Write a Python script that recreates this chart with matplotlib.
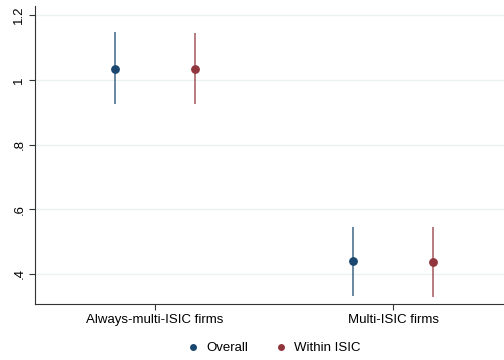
import numpy as np
import matplotlib.pyplot as plt

plt.rcParams['font.family'] = ['Liberation Sans', 'DejaVu Sans']

# data
groups = ["Always-multi-ISIC firms", "Multi-ISIC firms"]
overall_est = [1.035, 0.439]
overall_lo = [0.926, 0.332]
overall_hi = [1.147, 0.546]
within_est = [1.035, 0.437]
within_lo = [0.924, 0.329]
within_hi = [1.145, 0.544]

navy = "#1a476f"
maroon = "#90353b"

fig = plt.figure(figsize=(5.04, 3.6), dpi=100)
ax = fig.add_axes([35 / 504, 1 - 304 / 360, 1 - 35 / 504, (304 - 5.5) / 360])

pos = np.arange(1, len(groups) + 1)
off = 0.167

for est, lo, hi, col, lab, dx in [
    (overall_est, overall_lo, overall_hi, navy, "Overall", -off),
    (within_est, within_lo, within_hi, maroon, "Within ISIC", off),
]:
    ax.vlines(pos + dx, lo, hi, color=col, alpha=0.7, linewidth=1.3, zorder=2)
    ax.plot(pos + dx, est, 'o', color=col, markersize=5.3, zorder=3, label=lab)

ax.set_xlim(0.496, 2.466)
ax.set_ylim(0.307, 1.23)
ax.set_yticks([0.4, 0.6, 0.8, 1.0, 1.2])
ax.set_yticklabels([".4", ".6", ".8", "1", "1.2"], rotation=90, va='center', fontsize=9.5)
ax.set_xticks(pos)
ax.set_xticklabels(groups, fontsize=9.5)
ax.tick_params(length=4, width=0.8, color="#333333", pad=3)

ax.grid(axis='y', color="#eaf2f3", linewidth=1.0)
ax.set_axisbelow(True)
for s in ["top", "right"]:
    ax.spines[s].set_visible(False)
for s in ["left", "bottom"]:
    ax.spines[s].set_color("#333333")
    ax.spines[s].set_linewidth(0.8)

leg = fig.legend(loc='center', bbox_to_anchor=(270 / 504, 1 - 348 / 360), ncol=2, frameon=False,
                 fontsize=9.5, handletextpad=0.0, columnspacing=1.5, markerscale=0.75)

fig.savefig("out.png", dpi=100)
